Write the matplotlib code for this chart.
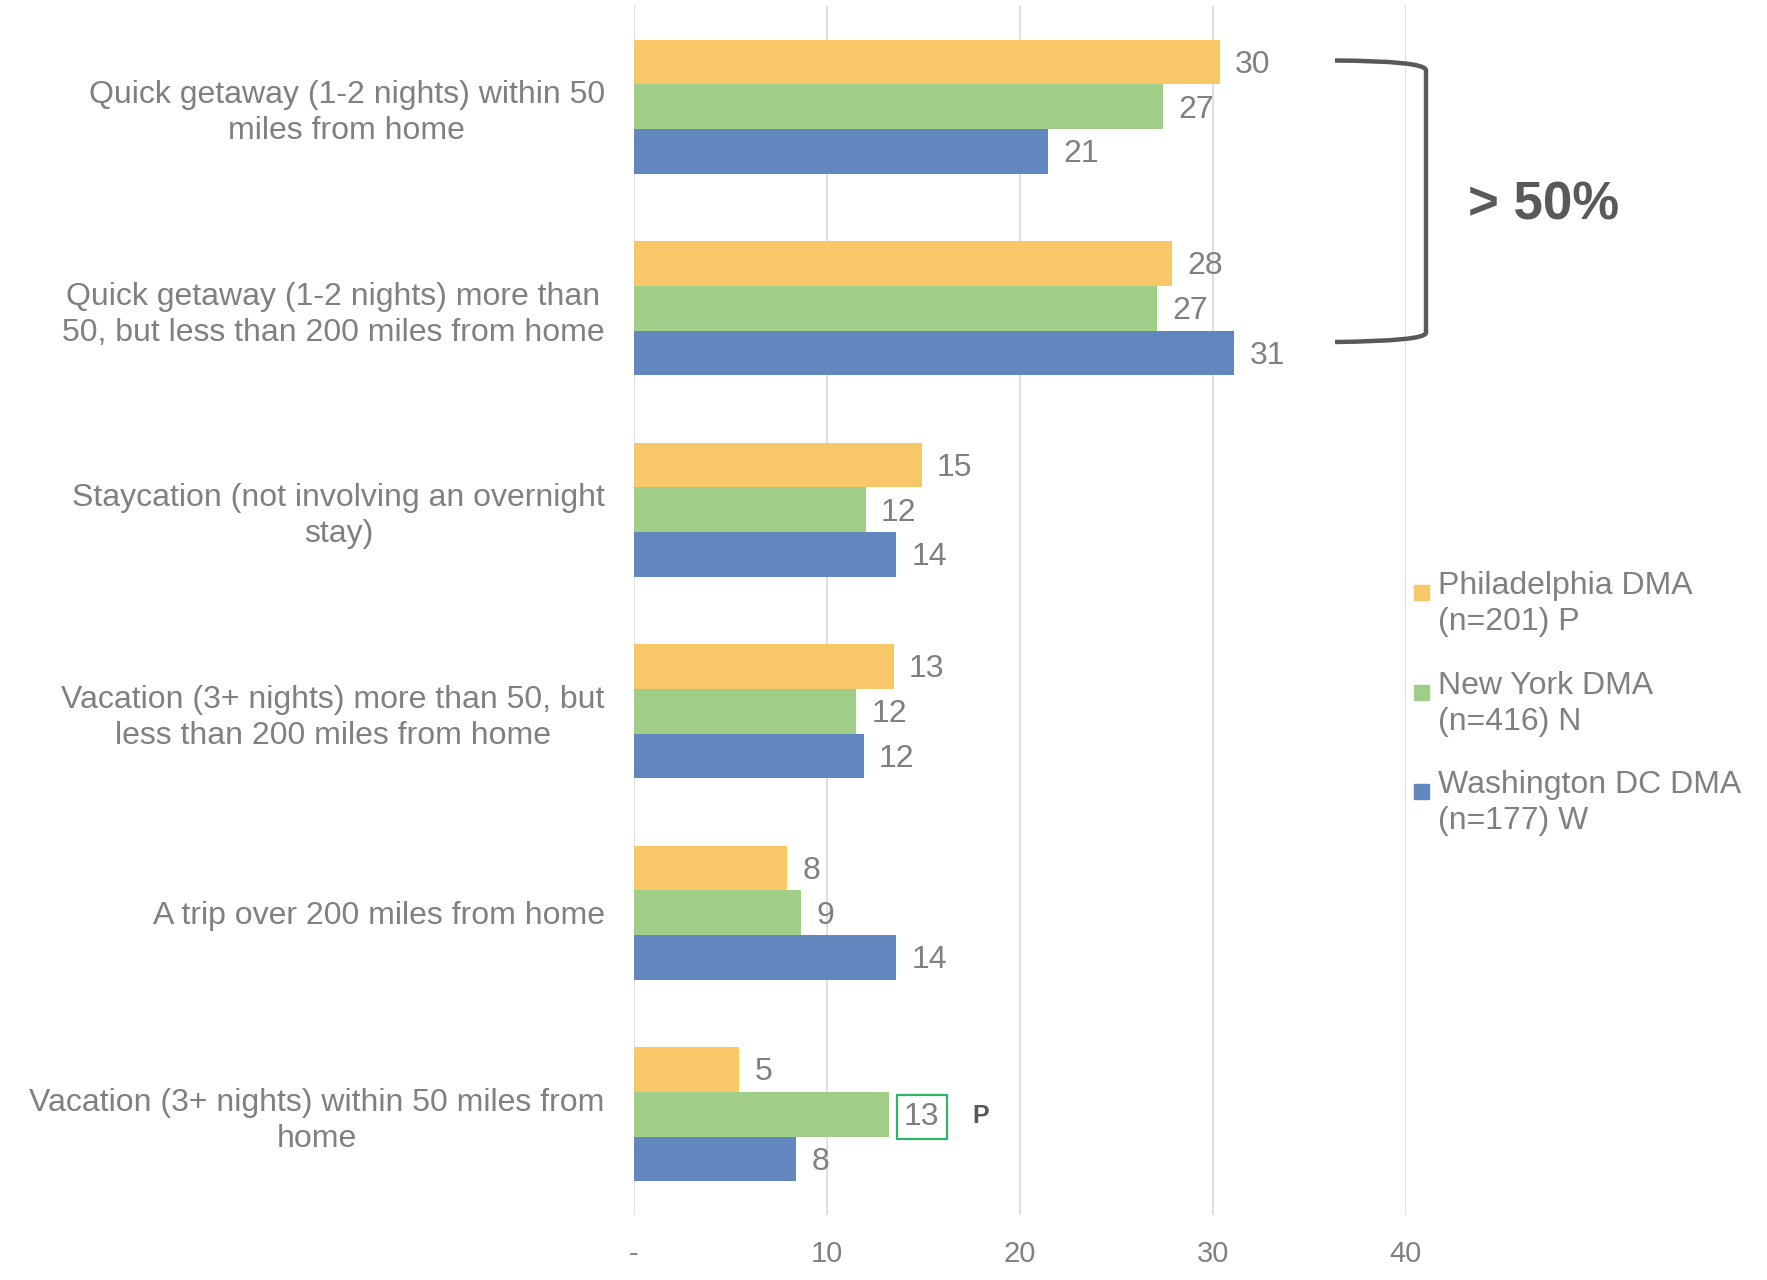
import matplotlib
matplotlib.use("Agg")
import matplotlib.pyplot as plt
import numpy as np
from matplotlib.patches import Rectangle, PathPatch
from matplotlib.path import Path

plt.rcParams['font.family'] = ['Liberation Sans', 'DejaVu Sans']

categories = [
    "Quick getaway (1-2 nights) within 50\nmiles from home",
    "Quick getaway (1-2 nights) more than\n50, but less than 200 miles from home",
    "Staycation (not involving an overnight\nstay)",
    "Vacation (3+ nights) more than 50, but\nless than 200 miles from home",
    "A trip over 200 miles from home",
    "Vacation (3+ nights) within 50 miles from\nhome",
]
philly = [30.35, 27.9, 14.9, 13.45, 7.95, 5.44]
newyork = [27.4, 27.1, 12.0, 11.5, 8.65, 13.2]
washington = [21.46, 31.1, 13.6, 11.9, 13.6, 8.4]
series_names = ["Philadelphia DMA\n(n=201) P", "New York DMA\n(n=416) N", "Washington DC DMA\n(n=177) W"]
colors = ["#F8C868", "#A0CE88", "#6286BE"]
xticks = [0, 10, 20, 30, 40]
xticklabels = ["-", "10", "20", "30", "40"]

gray = "#808080"
dark = "#595959"
W, H = 1767, 1280

fig = plt.figure(figsize=(W / 100, H / 100), dpi=100)
ax = fig.add_axes([634 / W, 1 - 1215 / H, (1406 - 634) / W, (1215 - 6) / H])

y = np.arange(len(categories))
bh = 0.222
for i, (vals, c) in enumerate(zip([philly, newyork, washington], colors)):
    pos = y + (i - 1) * bh
    ax.barh(pos, vals, height=bh, color=c, zorder=2)
    for j, (p, v) in enumerate(zip(pos, vals)):
        kw = {}
        if i == 1 and j == 5:
            kw['bbox'] = dict(boxstyle='square,pad=0.22', fc='none', ec='#2db36a', lw=1.6)
        ax.annotate("%d" % round(v), (v, p), xytext=(11, -2), textcoords='offset points',
                    va='center', ha='left', fontsize=23, color=gray, **kw)
        if i == 1 and j == 5:
            ax.annotate("P", (v, p), xytext=(60, -1), textcoords='offset points',
                        va='center', ha='left', fontsize=18, color=dark, fontweight='bold')

ax.set_ylim(len(categories) - 0.5, -0.5)
ax.set_xlim(0, 40)
ax.set_yticks(y)
ax.set_yticklabels(categories, fontsize=23, color=gray, multialignment='center', linespacing=1.27)
ax.set_xticks(xticks)
ax.set_xticklabels(xticklabels, fontsize=21, color=gray)
ax.tick_params(axis='y', length=0, pad=21)
ax.tick_params(axis='x', length=0, pad=18)
ax.grid(axis='x', color='#d9d9d9', lw=1.2, zorder=0)
ax.set_axisbelow(True)
for s in ax.spines.values():
    s.set_visible(False)

# bracket
def fp(px, py):
    return (px / W, 1 - py / H)

verts = [fp(1335, 60.5), fp(1424, 61), fp(1426, 70), fp(1426, 333), fp(1424, 341), fp(1335, 342)]
codes = [Path.MOVETO, Path.CURVE3, Path.CURVE3, Path.LINETO, Path.CURVE3, Path.CURVE3]
fig.patches.append(PathPatch(Path(verts, codes), transform=fig.transFigure, fill=False,
                             ec=dark, lw=3.2, capstyle='butt', joinstyle='round'))
fig.text(1468 / W, 1 - 205 / H, "> 50%", fontsize=38, fontweight='bold', color=dark,
         ha='left', va='center')

# legend
for k, (name, c) in enumerate(zip(series_names, colors)):
    ty = 571 + k * 99.5
    fig.patches.append(Rectangle(fp(1414, ty + 29), 15 / W, 15 / H, transform=fig.transFigure,
                                 color=c))
    fig.text(1438 / W, 1 - ty / H, name, fontsize=23, color=gray, ha='left', va='top',
             linespacing=1.27)

fig.savefig("out.png", dpi=100)
